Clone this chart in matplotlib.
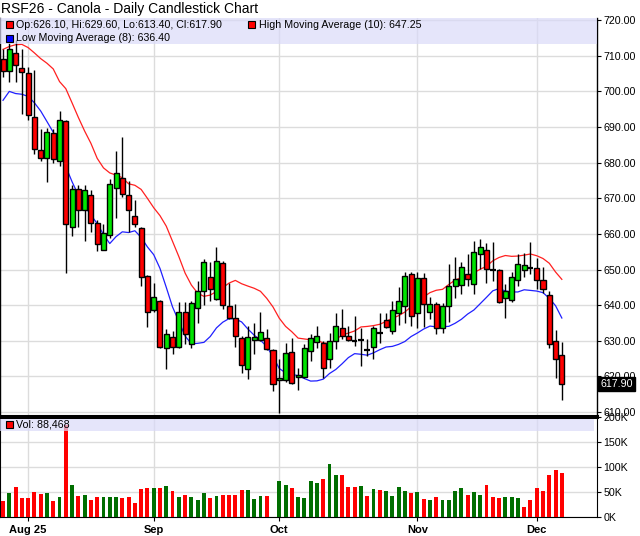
import matplotlib
matplotlib.use("Agg")
import matplotlib.pyplot as plt
from matplotlib.patches import Rectangle
import matplotlib.transforms as mtransforms
import numpy as np
import pandas as pd

plt.rcParams['font.family'] = ['Liberation Sans', 'DejaVu Sans']

# daily OHLC (Jul 28 .. Dec 5)
opens = [709.2, 705.6, 710.9, 706.7, 705.3, 692.8, 683.6, 681.4, 688.4, 680.6,
         691.7, 662.0, 672.6, 666.8, 670.8, 663.0, 655.6, 659.7, 672.9, 675.7,
         671.0, 665.1, 661.7, 648.1, 638.7, 641.1, 627.9, 631.2, 628.3, 638.2,
         629.0, 639.2, 643.9, 648.0, 641.7, 651.8, 639.8, 636.4, 630.9, 622.0,
         630.3, 630.3, 630.7, 627.5, 618.9, 618.9, 626.9, 619.9, 619.9, 627.2,
         629.7, 629.3, 624.8, 630.0, 633.7, 631.3, 630.1, 630.1, 627.4, 628.3,
         632.3, 635.8, 632.8, 637.8, 639.8, 648.7, 637.9, 647.6, 638.2, 640.3,
         633.6, 639.8, 645.5, 645.7, 648.7, 645.9, 654.4, 655.5, 649.9, 649.9,
         642.0, 641.4, 647.0, 649.9, 650.5, 650.4, 647.0, 642.8, 630.0, 626.1]
highs = [711.8, 713.6, 714.4, 711.8, 706.9, 705.9, 689.5, 689.7, 689.5, 694.5,
         691.9, 673.6, 673.6, 673.6, 672.4, 663.8, 662.8, 675.5, 683.4, 687.2,
         674.8, 669.4, 662.0, 648.5, 646.2, 641.5, 633.3, 632.8, 640.8, 640.8,
         641.2, 646.7, 653.0, 652.0, 656.4, 652.3, 646.1, 640.3, 631.4, 634.2,
         635.1, 638.2, 633.3, 627.7, 624.8, 629.5, 630.9, 622.5, 629.0, 631.9,
         634.2, 630.0, 632.3, 637.7, 638.9, 634.2, 637.0, 633.7, 630.5, 634.2,
         637.9, 637.9, 641.2, 645.0, 649.2, 649.4, 649.2, 648.9, 642.4, 640.8,
         640.5, 651.5, 653.6, 652.0, 654.4, 658.1, 658.6, 657.4, 657.6, 650.2,
         646.0, 649.2, 654.4, 654.6, 657.6, 653.2, 650.8, 644.1, 633.0, 629.6]
lows = [704.0, 702.6, 702.6, 693.6, 691.9, 682.5, 680.6, 674.5, 679.9, 679.2,
        649.0, 659.5, 662.0, 657.9, 660.4, 655.3, 655.4, 658.9, 664.5, 670.3,
        660.4, 661.9, 645.5, 633.9, 638.0, 628.1, 622.0, 626.2, 628.1, 629.0,
        627.9, 635.1, 640.1, 641.2, 641.5, 638.9, 636.2, 628.3, 621.1, 619.2,
        626.2, 630.0, 627.4, 615.9, 609.8, 618.5, 617.8, 616.1, 619.7, 624.4,
        627.9, 619.7, 622.5, 627.6, 630.5, 630.0, 628.6, 623.0, 625.8, 625.0,
        629.5, 633.7, 631.9, 634.5, 635.1, 634.2, 633.7, 633.9, 636.1, 631.9,
        632.3, 635.3, 642.0, 643.1, 645.5, 643.1, 650.2, 646.1, 646.9, 640.5,
        636.4, 641.0, 645.5, 648.0, 648.8, 644.6, 643.3, 627.9, 619.7, 613.4]
closes = [705.6, 712.0, 707.3, 705.5, 693.5, 683.9, 681.4, 688.6, 680.9, 691.9,
          662.8, 672.6, 666.8, 672.4, 663.0, 657.2, 660.3, 674.0, 677.2, 671.3,
          666.8, 662.8, 648.0, 638.1, 642.2, 628.3, 631.9, 628.3, 638.2, 631.9,
          640.5, 644.0, 652.2, 644.5, 652.3, 640.1, 636.4, 631.4, 623.2, 631.1,
          631.2, 632.5, 627.6, 618.0, 619.5, 626.7, 618.3, 620.3, 627.9, 630.7,
          631.3, 622.5, 630.0, 634.1, 631.3, 630.2, 630.0, 630.2, 627.4, 633.6,
          632.3, 633.9, 638.6, 641.2, 648.3, 637.0, 647.6, 640.2, 640.4, 633.6,
          639.8, 645.5, 647.3, 650.6, 647.3, 654.8, 656.2, 650.2, 649.9, 640.8,
          643.9, 648.0, 651.5, 651.4, 650.5, 647.0, 644.5, 629.0, 624.8, 617.9]
# volume in thousands of contracts
volumes = [33, 49, 61, 39, 39, 51, 47, 49, 33, 41,
           185, 65, 43, 45, 35, 41, 41, 41, 41, 39,
           41, 29, 57, 59, 59, 59, 63, 53, 41, 45,
           41, 35, 49, 39, 43, 45, 45, 45, 55, 55,
           37, 43, 43, 0, 73, 65, 59, 41, 39, 73,
           69, 77, 107, 85, 85, 61, 61, 63, 43, 57,
           55, 53, 43, 61, 53, 49, 51, 37, 35, 41,
           35, 35, 53, 59, 45, 51, 45, 65, 41, 39,
           41, 41, 39, 21, 35, 59, 53, 85, 95, 88.468]

# moving averages before enough bars are on screen
hma_head = [711.8, 712.6, 713.1, 713.2, 712.3, 710.8, 709.2, 707.9, 706.3]
lma_head = [697.5, 700.0, 699.4, 699.2, 698.6, 696.8, 694.5]

month_pos = [4, 24, 44, 66, 85]
month_labels = ['Aug 25', 'Sep', 'Oct', 'Nov', 'Dec']

W, H = 640, 536


def fx(x):
    return x / W


def fy(y):
    return 1 - y / H


o = np.array(opens)
h = np.array(highs)
l = np.array(lows)
c = np.array(closes)
v = np.array(volumes)
idx = np.arange(len(o))

hma = pd.Series(h).rolling(10).mean().to_numpy()
hma[:len(hma_head)] = hma_head
lma = pd.Series(l).rolling(8).mean().to_numpy()
lma[:len(lma_head)] = lma_head

fig = plt.figure(figsize=(6.4, 5.36), dpi=100)
ax = fig.add_axes([0, fy(416), fx(597), fy(18) - fy(416)])
axv = fig.add_axes([0, fy(517), fx(597), fy(417) - fy(517)])

grid_c = '#DCDCDC'
xlim = (-0.48, 94.6)

# price panel
ax.plot(idx, hma, color='#FF2020', lw=0.9, zorder=2)
ax.plot(idx, lma, color='#2020FF', lw=0.9, zorder=2)
ax.vlines(idx, l, h, color='black', lw=1, zorder=3)
body = np.abs(c - o)
doji = body < 0.25
up = c > o
cols = np.where(up, '#00E400', '#FF0000')
ax.bar(idx[~doji], body[~doji], bottom=np.minimum(o, c)[~doji], width=0.8,
       color=cols[~doji], edgecolor='black', linewidth=1, zorder=4)
ax.hlines(c[doji], idx[doji] - 0.45, idx[doji] + 0.45, color='black', lw=1.6, zorder=4)

ax.set_xlim(*xlim)
ax.set_ylim(608.9, 720.6)
ax.set_yticks(np.arange(610, 721, 10))
ax.yaxis.set_major_formatter(plt.FuncFormatter(lambda y, _: f'{y:.2f}'))
ax.yaxis.tick_right()
ax.tick_params(axis='y', length=3, pad=1.5, labelsize=7.7, colors='black')
ax.set_xticks(month_pos)
ax.tick_params(axis='x', length=0, labelbottom=False)
ax.grid(True, color=grid_c, lw=1)
ax.set_axisbelow(True)
ax.spines['top'].set_visible(False)
ax.spines['bottom'].set_linewidth(2.2)
for s in ('left', 'right'):
    ax.spines[s].set_linewidth(1)

# last price tag
trans = mtransforms.blended_transform_factory(ax.transAxes, ax.transData)
ax.text(1.006, c[-1], f'{c[-1]:.2f}', transform=trans, ha='left', va='center',
        fontsize=7.7, color='white',
        bbox=dict(boxstyle='square,pad=0.2', facecolor='black', edgecolor='black'))

# volume panel
prev = np.concatenate([[o[0]], c[:-1]])
vcols = np.where(c > prev, '#006E00', '#FF0000')
axv.bar(idx, v, width=0.62, color=vcols, zorder=3)
axv.set_xlim(*xlim)
axv.set_ylim(0, 200)
axv.set_yticks([0, 50, 100, 150, 200])
axv.set_yticklabels(['0K', '50K', '100K', '150K', '200K'])
axv.yaxis.tick_right()
axv.tick_params(axis='y', length=3, pad=1.5, labelsize=7.7)
axv.set_xticks(month_pos)
axv.set_xticklabels(month_labels, fontweight='bold', fontsize=8)
axv.tick_params(axis='x', length=3, pad=2.5)
axv.grid(True, color=grid_c, lw=1)
axv.set_axisbelow(True)
axv.spines['top'].set_linewidth(2.2)

# legend bands
band = '#DADAF8'
fig.add_artist(Rectangle((0, fy(43.5)), fx(597), fy(18) - fy(43.5), transform=fig.transFigure,
                         facecolor=band, edgecolor='none', alpha=0.7, zorder=5))
fig.add_artist(Rectangle((0, fy(431)), fx(594), fy(418.5) - fy(431), transform=fig.transFigure,
                         facecolor=band, edgecolor='none', alpha=0.7, zorder=5))


def legend_item(x, y, color, label):
    fig.add_artist(Rectangle((fx(x), fy(y + 3.5)), fx(7), fy(0) - fy(7), transform=fig.transFigure,
                             facecolor=color, edgecolor='black', lw=0.8, zorder=6))
    fig.text(fx(x + 11), fy(y), label, fontsize=7.7, va='center', ha='left', zorder=7)


legend_item(5.5, 24.5, '#FF0000', f'Op:{o[-1]:.2f}, Hi:{h[-1]:.2f}, Lo:{l[-1]:.2f}, Cl:{c[-1]:.2f}')
legend_item(248, 24.5, '#FF0000', f'High Moving Average (10): {hma[-1]:.2f}')
legend_item(5.5, 38.5, '#0000FF', f'Low Moving Average (8): {lma[-1]:.2f}')
legend_item(5.5, 424.5, '#FF0000', f'Vol: {v[-1] * 1000:,.0f}')

fig.text(fx(1), fy(8.5), 'RSF26 - Canola - Daily Candlestick Chart', fontsize=10,
         va='center', ha='left')

fig.savefig('out.png', dpi=100)
